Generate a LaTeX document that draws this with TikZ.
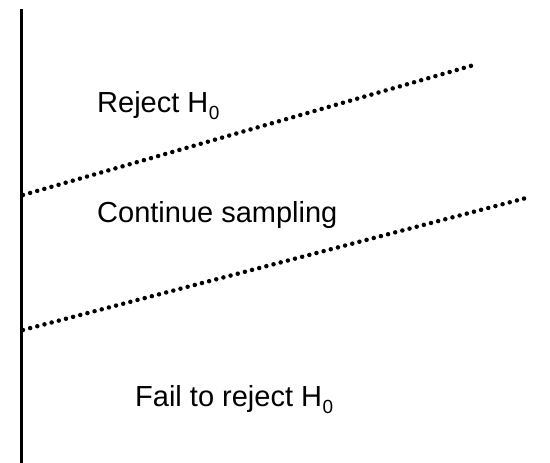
\documentclass[tikz,border=0pt]{standalone}
\usepackage{fontspec}
\setmainfont{Liberation Sans}
\newcommand{\Hnull}{H\kern0.02em\raisebox{-0.25em}{\fontsize{19}{19}\selectfont 0}}
\tikzset{
  axisline/.style={line width=3pt},
  boundary/.style={line width=4.5pt, line cap=round, dash pattern=on 0pt off 7.4pt},
  region/.style={anchor=base west, inner sep=0pt, font=\fontsize{29}{29}\selectfont}
}
\begin{document}
\begin{tikzpicture}[x=1pt,y=-1pt]
\useasboundingbox (0,0) rectangle (550,463);
\coordinate (axtop) at (21.5,9);
\coordinate (axbot) at (21.5,463);
\draw[axisline] (axtop) -- (axbot);
\coordinate (u1) at (23,195);
\coordinate (u2) at (474,65);
\coordinate (l1) at (23,330);
\coordinate (l2) at (530,197);
\draw[boundary] (u1) -- (u2);
\draw[boundary] (l1) -- (l2);
\node[region] (rej) at (97,112) {Reject \Hnull};
\node[region] (cont) at (97,222) {Continue sampling};
\node[region] (fail) at (135,406) {Fail to reject \Hnull};
\end{tikzpicture}
\end{document}
